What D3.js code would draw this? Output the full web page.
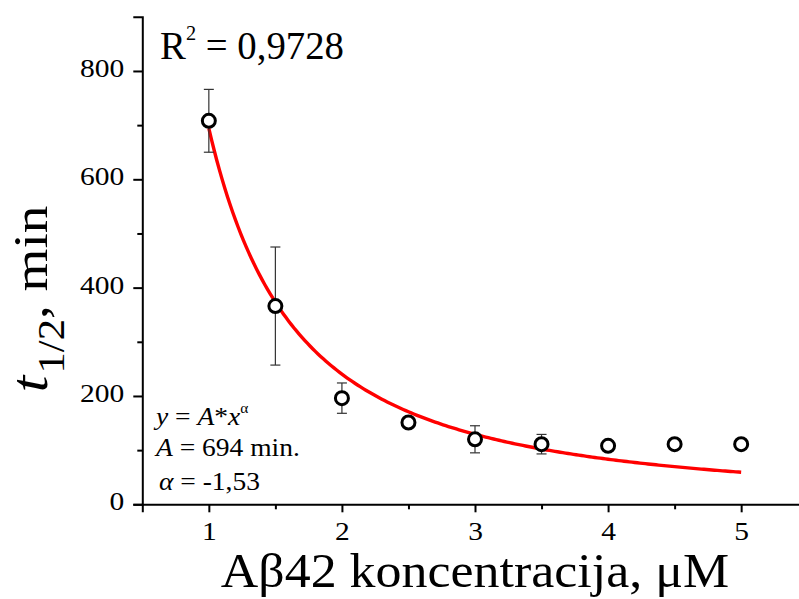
<!DOCTYPE html>
<html>
<head>
<meta charset="utf-8">
<script src="https://cdn.jsdelivr.net/npm/d3@7"></script>
<style>
  html, body { margin: 0; padding: 0; background: #fff; }
  svg { display: block; }
  text { font-family: "Liberation Serif", "Times New Roman", serif; fill: #000; }
</style>
</head>
<body>
<svg id="chart" width="799" height="599"></svg>
<script>
// Aβ42 concentration (µM) and half-time t1/2 (min) with error bars
const concentration = [1, 1.5, 2, 2.5, 3, 3.5, 4, 4.5, 5];
const halfTime      = [708, 366, 196, 151, 120, 111, 108, 111, 111];
const halfTimeErr   = [58, 109, 28, 6, 25, 18, 3, 5, 3];

// power-law fit y = A * x^alpha
const fitA = 694;
const fitAlpha = -1.53;
const fitR2 = "0,9728";

const xTicks = [1, 2, 3, 4, 5];
const xMinorTicks = [1.5, 2.5, 3.5, 4.5];
const yTicks = [0, 200, 400, 600, 800];
const yMinorTicks = [100, 300, 500, 700];

const svg = d3.select("#chart");
const x = d3.scaleLinear().domain([0.5, 5.5]).range([142.3, 807.7]);
const y = d3.scaleLinear().domain([0, 900]).range([504.3, 16.8]);

const SX = 1.18; // horizontal stretch of tick lettering

// axes
const yAxis = d3.axisLeft(y).tickValues(yTicks).tickSize(9).tickPadding(9).tickFormat(d3.format("d"));
const yMinor = d3.axisLeft(y).tickValues(yMinorTicks).tickSize(5).tickFormat("");
const xAxis = d3.axisBottom(x).tickValues(xTicks).tickSize(8).tickPadding(10).tickFormat(d3.format("d"));
const xMinor = d3.axisBottom(x).tickValues(xMinorTicks).tickSize(5).tickFormat("");

function styleAxis(g) {
  g.select(".domain").attr("stroke", "#000").attr("stroke-width", 2);
  g.selectAll(".tick line").attr("stroke", "#000").attr("stroke-width", 2);
  g.selectAll(".tick text")
    .attr("font-size", 25)
    .attr("font-family", "Liberation Serif, serif")
    .attr("fill", "#000");
}

const gy = svg.append("g").attr("transform", `translate(${x(0.5)},0)`).call(yAxis).call(styleAxis);
svg.append("g").attr("transform", `translate(${x(0.5)},0)`).call(yMinor).call(styleAxis).select(".domain").remove();
gy.selectAll(".tick text").each(function() {
  const t = d3.select(this);
  const tx = +t.attr("x");
  t.attr("x", null).attr("dy", "0.22em")
   .attr("transform", `translate(${tx},0) scale(${SX},1)`);
});

const gx = svg.append("g").attr("transform", `translate(0,${y(0)})`).call(xAxis).call(styleAxis);
svg.append("g").attr("transform", `translate(0,${y(0)})`).call(xMinor).call(styleAxis).select(".domain").remove();
gx.selectAll(".tick text").each(function() {
  const t = d3.select(this);
  const ty = +t.attr("y");
  t.attr("y", null).attr("transform", `translate(0,${ty}) scale(${SX},1)`);
});

// fitted curve
const curveData = d3.range(1, 5.0001, 0.02).map(v => [v, fitA * Math.pow(v, fitAlpha)]);
svg.append("path")
  .datum(curveData)
  .attr("fill", "none")
  .attr("stroke", "#ff0000")
  .attr("stroke-width", 3.4)
  .attr("d", d3.line().x(d => x(d[0])).y(d => y(d[1])));

// error bars
const pts = concentration.map((c, i) => ({ c, v: halfTime[i], e: halfTimeErr[i] }));
const eb = svg.append("g").attr("stroke", "#333").attr("stroke-width", 1.2);
eb.selectAll("line.v").data(pts).join("line").attr("class", "v")
  .attr("x1", d => x(d.c)).attr("x2", d => x(d.c))
  .attr("y1", d => y(d.v + d.e)).attr("y2", d => y(d.v - d.e));
eb.selectAll("line.t").data(pts).join("line").attr("class", "t")
  .attr("x1", d => x(d.c) - 5).attr("x2", d => x(d.c) + 5)
  .attr("y1", d => y(d.v + d.e)).attr("y2", d => y(d.v + d.e));
eb.selectAll("line.b").data(pts).join("line").attr("class", "b")
  .attr("x1", d => x(d.c) - 5).attr("x2", d => x(d.c) + 5)
  .attr("y1", d => y(d.v - d.e)).attr("y2", d => y(d.v - d.e));

// markers
svg.append("g").selectAll("circle").data(pts).join("circle")
  .attr("cx", d => x(d.c)).attr("cy", d => y(d.v))
  .attr("r", 6.5)
  .attr("fill", "#fff")
  .attr("stroke", "#000")
  .attr("stroke-width", 3);

// R² annotation
const r2 = svg.append("text")
  .attr("transform", `translate(160,59) scale(0.97,1)`)
  .attr("font-size", 40);
r2.append("tspan").text("R");
r2.append("tspan").attr("font-size", 21).attr("dy", -19).text("2");
r2.append("tspan").attr("dy", 19).text(" = " + fitR2);

// fit equation
const eq = svg.append("g");
const l1 = eq.append("text").attr("transform", `translate(156,425) scale(1.1,1)`).attr("font-size", 25);
l1.append("tspan").attr("font-style", "italic").text("y");
l1.append("tspan").text(" = ");
l1.append("tspan").attr("font-style", "italic").text("A");
l1.append("tspan").text("*");
l1.append("tspan").attr("font-style", "italic").text("x");
l1.append("tspan").attr("font-size", 14).attr("dy", -12).text("α");
const l2 = eq.append("text").attr("transform", `translate(156,455.7) scale(1.1,1)`).attr("font-size", 25);
l2.append("tspan").attr("font-style", "italic").text("A");
l2.append("tspan").text(" = " + fitA + " min.");
const l3 = eq.append("text").attr("transform", `translate(159,490) scale(1.1,1)`).attr("font-size", 25);
l3.append("tspan").attr("font-style", "italic").text("α");
l3.append("tspan").text(" = " + String(fitAlpha).replace(".", ","));

// axis titles
svg.append("text")
  .attr("transform", `translate(${(x(1) + x(5)) / 2},587) scale(1.06,1)`)
  .attr("text-anchor", "middle")
  .attr("font-size", 49)
  .text("Aβ42 koncentracija, μM");

const yt = svg.append("text")
  .attr("transform", `translate(47,299) rotate(-90) scale(1.15,1)`)
  .attr("text-anchor", "middle")
  .attr("font-size", 48);
yt.append("tspan").attr("font-style", "italic").attr("font-size", 52).text("t");
yt.append("tspan").attr("font-size", 37).attr("dx", 2).attr("dy", 17).text("1/2");
yt.append("tspan").attr("dy", -17).text(", min");
</script>
</body>
</html>
